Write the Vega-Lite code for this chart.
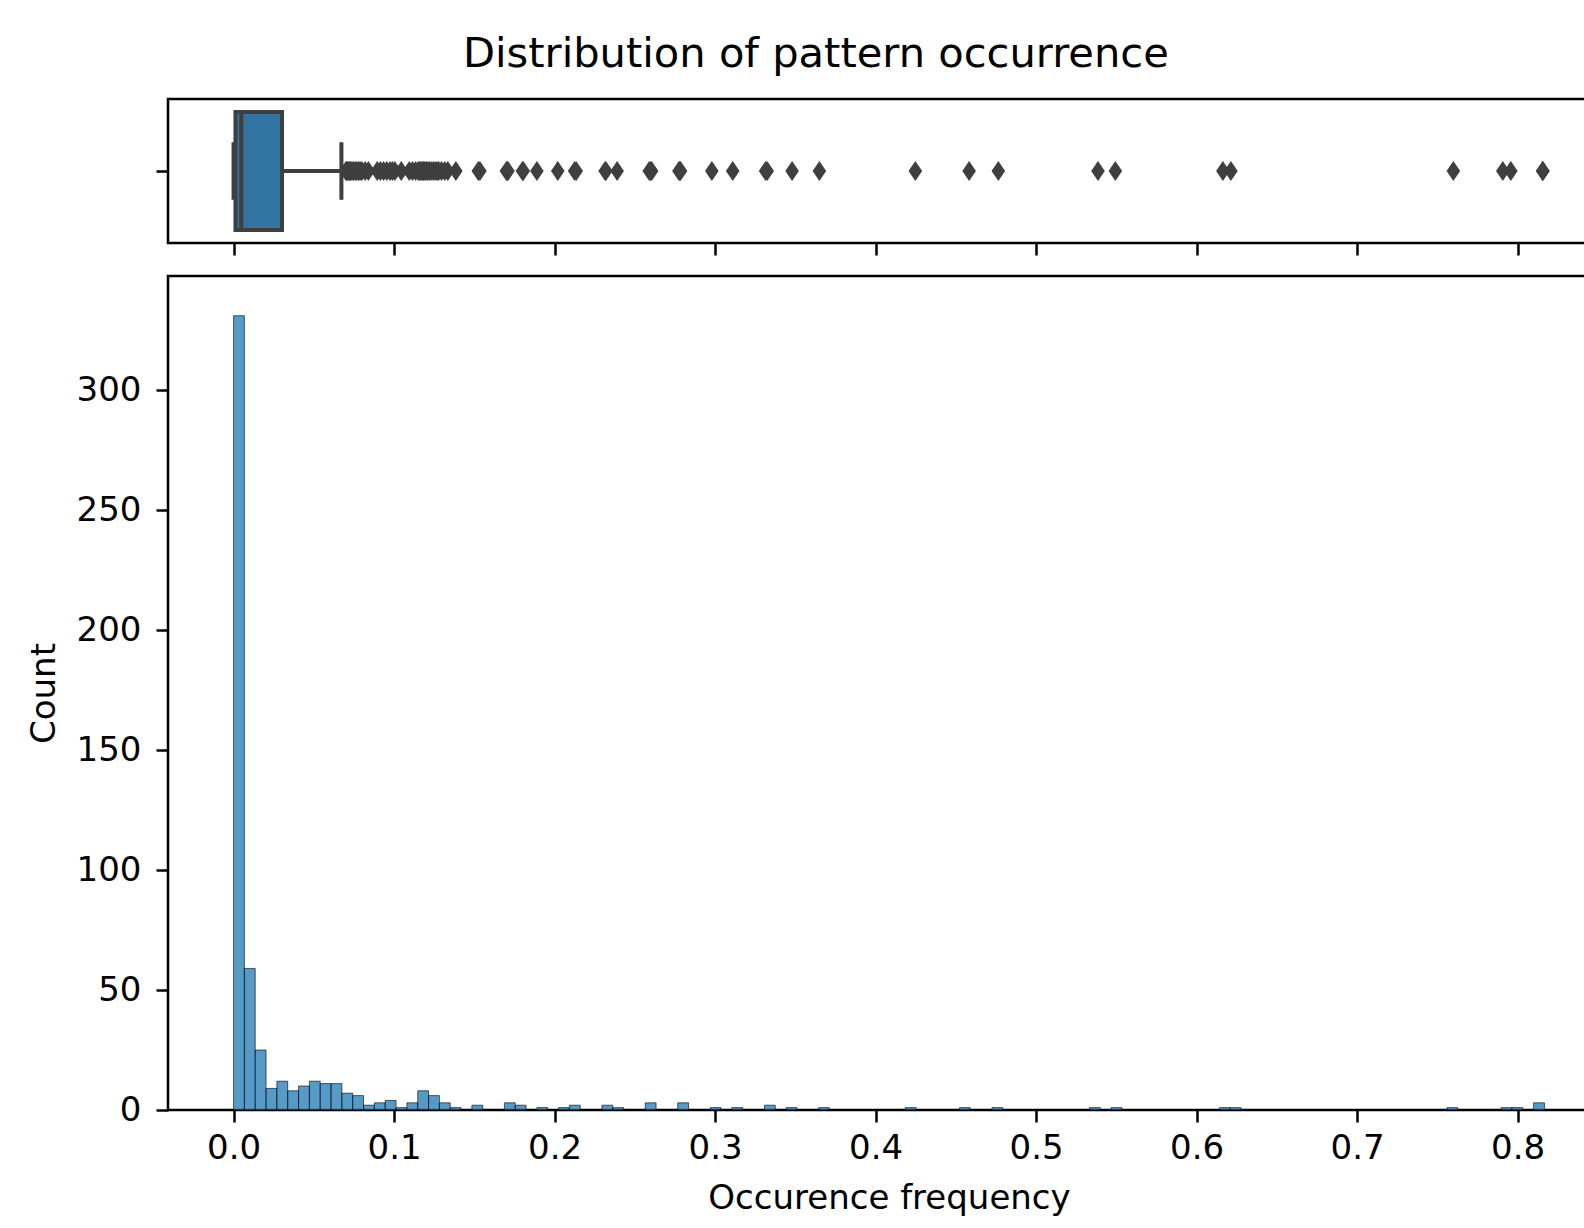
{
  "$schema": "https://vega.github.io/schema/vega-lite/v6.json",
  "padding": {"left": 25, "top": 34, "right": 0, "bottom": 0},
  "background": "white",
  "config": {
    "font": "DejaVu Sans",
    "view": {"stroke": "#000000", "strokeWidth": 2.5},
    "axis": {
      "labelFont": "DejaVu Sans",
      "labelFontSize": 34,
      "labelColor": "#000000",
      "tickColor": "#000000",
      "tickWidth": 2.5,
      "tickSize": 12,
      "domain": false,
      "grid": false,
      "titleFont": "DejaVu Sans",
      "titleFontSize": 34,
      "titleFontWeight": "normal",
      "titleColor": "#000000"
    }
  },
  "title": {
    "text": "Distribution of pattern occurrence",
    "font": "DejaVu Sans",
    "fontSize": 41.6,
    "fontWeight": "normal",
    "color": "#000000",
    "anchor": "start",
    "frame": "group",
    "dx": 295,
    "offset": -11,
    "baseline": "alphabetic"
  },
  "datasets": {
    "summary": [{"lo": 0.0, "q1": 0.0012, "median": 0.0048, "q3": 0.0302, "hi": 0.0672}],
    "outliers": [
      {"value": 0.0700}, {"value": 0.0706}, {"value": 0.0712}, {"value": 0.0718}, {"value": 0.0724}, {"value": 0.0730}, {"value": 0.0738},
      {"value": 0.0748}, {"value": 0.0758}, {"value": 0.0768}, {"value": 0.0778}, {"value": 0.0788}, {"value": 0.0800},
      {"value": 0.0820}, {"value": 0.0840},
      {"value": 0.0895}, {"value": 0.0915}, {"value": 0.0935},
      {"value": 0.0955}, {"value": 0.0975}, {"value": 0.0990}, {"value": 0.1005},
      {"value": 0.1045},
      {"value": 0.1095}, {"value": 0.1115}, {"value": 0.1135},
      {"value": 0.1152}, {"value": 0.1160}, {"value": 0.1168}, {"value": 0.1176}, {"value": 0.1184}, {"value": 0.1192}, {"value": 0.1200}, {"value": 0.1210},
      {"value": 0.1220}, {"value": 0.1232}, {"value": 0.1244}, {"value": 0.1256}, {"value": 0.1268}, {"value": 0.1278},
      {"value": 0.1295}, {"value": 0.1315}, {"value": 0.1335},
      {"value": 0.1385},
      {"value": 0.1525}, {"value": 0.1535},
      {"value": 0.1700}, {"value": 0.1705}, {"value": 0.1710},
      {"value": 0.1800}, {"value": 0.1805},
      {"value": 0.1890},
      {"value": 0.2020},
      {"value": 0.2125}, {"value": 0.2135},
      {"value": 0.2315}, {"value": 0.2320},
      {"value": 0.2390},
      {"value": 0.2590}, {"value": 0.2600}, {"value": 0.2605},
      {"value": 0.2775}, {"value": 0.2780}, {"value": 0.2785},
      {"value": 0.2980},
      {"value": 0.3110},
      {"value": 0.3315}, {"value": 0.3325},
      {"value": 0.3480},
      {"value": 0.3650},
      {"value": 0.4248},
      {"value": 0.4583},
      {"value": 0.4765},
      {"value": 0.5386},
      {"value": 0.5494},
      {"value": 0.6164},
      {"value": 0.6214},
      {"value": 0.7600},
      {"value": 0.7908},
      {"value": 0.7958},
      {"value": 0.8157}, {"value": 0.8157}, {"value": 0.8157}
    ],
    "hist": [
      {"bin_start": 0.0, "bin_end": 0.00675, "count": 331},
      {"bin_start": 0.00675, "bin_end": 0.0135, "count": 59},
      {"bin_start": 0.0135, "bin_end": 0.02025, "count": 25},
      {"bin_start": 0.02025, "bin_end": 0.027, "count": 9},
      {"bin_start": 0.027, "bin_end": 0.03375, "count": 12},
      {"bin_start": 0.03375, "bin_end": 0.0405, "count": 8},
      {"bin_start": 0.0405, "bin_end": 0.04725, "count": 10},
      {"bin_start": 0.04725, "bin_end": 0.054, "count": 12},
      {"bin_start": 0.054, "bin_end": 0.06075, "count": 11},
      {"bin_start": 0.06075, "bin_end": 0.0675, "count": 11},
      {"bin_start": 0.0675, "bin_end": 0.07425, "count": 7},
      {"bin_start": 0.07425, "bin_end": 0.081, "count": 6},
      {"bin_start": 0.081, "bin_end": 0.08775, "count": 2},
      {"bin_start": 0.08775, "bin_end": 0.0945, "count": 3},
      {"bin_start": 0.0945, "bin_end": 0.10125, "count": 4},
      {"bin_start": 0.10125, "bin_end": 0.108, "count": 1},
      {"bin_start": 0.108, "bin_end": 0.11475, "count": 3},
      {"bin_start": 0.11475, "bin_end": 0.1215, "count": 8},
      {"bin_start": 0.1215, "bin_end": 0.12825, "count": 6},
      {"bin_start": 0.12825, "bin_end": 0.135, "count": 3},
      {"bin_start": 0.135, "bin_end": 0.14175, "count": 1},
      {"bin_start": 0.1485, "bin_end": 0.15525, "count": 2},
      {"bin_start": 0.16875, "bin_end": 0.1755, "count": 3},
      {"bin_start": 0.1755, "bin_end": 0.18225, "count": 2},
      {"bin_start": 0.189, "bin_end": 0.19575, "count": 1},
      {"bin_start": 0.2025, "bin_end": 0.20925, "count": 1},
      {"bin_start": 0.20925, "bin_end": 0.216, "count": 2},
      {"bin_start": 0.2295, "bin_end": 0.23625, "count": 2},
      {"bin_start": 0.23625, "bin_end": 0.243, "count": 1},
      {"bin_start": 0.2565, "bin_end": 0.26325, "count": 3},
      {"bin_start": 0.27675, "bin_end": 0.2835, "count": 3},
      {"bin_start": 0.297, "bin_end": 0.30375, "count": 1},
      {"bin_start": 0.3105, "bin_end": 0.31725, "count": 1},
      {"bin_start": 0.33075, "bin_end": 0.3375, "count": 2},
      {"bin_start": 0.34425, "bin_end": 0.351, "count": 1},
      {"bin_start": 0.3645, "bin_end": 0.37125, "count": 1},
      {"bin_start": 0.4185, "bin_end": 0.42525, "count": 1},
      {"bin_start": 0.45225, "bin_end": 0.459, "count": 1},
      {"bin_start": 0.4725, "bin_end": 0.47925, "count": 1},
      {"bin_start": 0.53325, "bin_end": 0.54, "count": 1},
      {"bin_start": 0.54675, "bin_end": 0.5535, "count": 1},
      {"bin_start": 0.61425, "bin_end": 0.621, "count": 1},
      {"bin_start": 0.621, "bin_end": 0.62775, "count": 1},
      {"bin_start": 0.756, "bin_end": 0.76275, "count": 1},
      {"bin_start": 0.78975, "bin_end": 0.7965, "count": 1},
      {"bin_start": 0.7965, "bin_end": 0.80325, "count": 1},
      {"bin_start": 0.81, "bin_end": 0.81675, "count": 3}
    ]
  },
  "spacing": 16,
  "vconcat": [
    {
      "width": 1442,
      "height": 144,
      "layer": [
        {
          "data": {"name": "summary"},
          "mark": {"type": "rule", "color": "#3f3f3f", "strokeWidth": 4},
          "encoding": {
            "x": {"field": "lo", "type": "quantitative", "scale": {"domain": [-0.04084, 0.85759], "nice": false, "zero": false},
                  "axis": {"values": [0, 0.1, 0.2, 0.3, 0.4, 0.5, 0.6, 0.7, 0.8], "labels": false, "title": null, "orient": "bottom"}},
            "x2": {"field": "q1"},
            "y": {"datum": 0, "type": "quantitative", "scale": {"domain": [-0.5, 0.5], "nice": false, "zero": false},
                  "axis": {"values": [0], "labels": false, "title": null}}
          }
        },
        {
          "data": {"name": "summary"},
          "mark": {"type": "rule", "color": "#3f3f3f", "strokeWidth": 4},
          "encoding": {
            "x": {"field": "q3", "type": "quantitative"},
            "x2": {"field": "hi"},
            "y": {"datum": 0, "type": "quantitative"}
          }
        },
        {
          "data": {"name": "summary"},
          "mark": {"type": "rule", "color": "#3f3f3f", "strokeWidth": 4},
          "encoding": {
            "x": {"field": "lo", "type": "quantitative"},
            "y": {"datum": -0.2, "type": "quantitative"},
            "y2": {"datum": 0.2}
          }
        },
        {
          "data": {"name": "summary"},
          "mark": {"type": "rule", "color": "#3f3f3f", "strokeWidth": 4},
          "encoding": {
            "x": {"field": "hi", "type": "quantitative"},
            "y": {"datum": -0.2, "type": "quantitative"},
            "y2": {"datum": 0.2}
          }
        },
        {
          "data": {"name": "summary"},
          "mark": {"type": "rect", "fill": "#3274a1", "stroke": "#3f3f3f", "strokeWidth": 4},
          "encoding": {
            "x": {"field": "q1", "type": "quantitative"},
            "x2": {"field": "q3"},
            "y": {"datum": -0.41, "type": "quantitative"},
            "y2": {"datum": 0.41}
          }
        },
        {
          "data": {"name": "summary"},
          "mark": {"type": "rule", "color": "#3f3f3f", "strokeWidth": 4},
          "encoding": {
            "x": {"field": "median", "type": "quantitative"},
            "y": {"datum": -0.41, "type": "quantitative"},
            "y2": {"datum": 0.41}
          }
        },
        {
          "data": {"name": "outliers"},
          "mark": {"type": "point", "shape": "M0,-1L0.68,0L0,1L-0.68,0Z", "filled": true, "fill": "#3f3f3f", "strokeWidth": 0, "opacity": 1, "size": 400},
          "encoding": {
            "x": {"field": "value", "type": "quantitative"},
            "y": {"datum": 0, "type": "quantitative"}
          }
        }
      ]
    },
    {
      "width": 1442,
      "height": 834,
      "data": {"name": "hist"},
      "mark": {"type": "bar", "fill": "#1f77b4", "fillOpacity": 0.75, "stroke": "#000000", "strokeOpacity": 0.6, "strokeWidth": 1},
      "encoding": {
        "x": {"field": "bin_start", "type": "quantitative",
              "scale": {"domain": [-0.04084, 0.85759], "nice": false, "zero": false},
              "axis": {"values": [0, 0.1, 0.2, 0.3, 0.4, 0.5, 0.6, 0.7, 0.8], "format": ".1f", "title": "Occurence frequency",
                       "labelBaseline": "alphabetic", "labelPadding": 36, "titleBaseline": "alphabetic", "titleY": 98}},
        "x2": {"field": "bin_end"},
        "y": {"field": "count", "type": "quantitative",
              "scale": {"domain": [0, 347.55], "nice": false},
              "axis": {"values": [0, 50, 100, 150, 200, 250, 300], "title": "Count", "labelPadding": 15,
                       "titleX": -114, "titleY": 417, "titleAngle": -90, "titleBaseline": "alphabetic", "titleAlign": "center"}},
        "y2": {"datum": 0}
      }
    }
  ]
}
